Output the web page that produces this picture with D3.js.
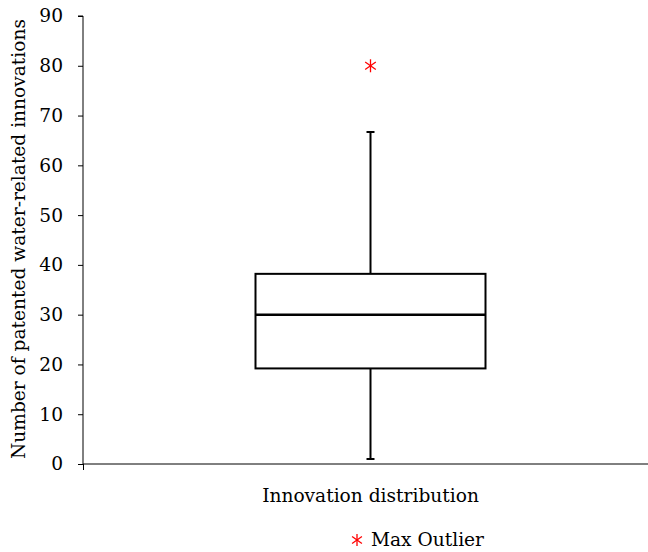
<!DOCTYPE html>
<html>
<head>
<meta charset="utf-8">
<script src="https://cdn.jsdelivr.net/npm/d3@7"></script>
<style>
  body { margin: 0; background: #fff; }
  text { font-family: "DejaVu Serif", "Liberation Serif", serif; }
</style>
</head>
<body>
<div id="vis-container"></div>
<script>
// data
let categories = ["Innovation distribution"];
let minValues = [1];
let q1Values = [19.2];
let medianValues = [30];
let q3Values = [38.2];
let maxValues = [66.7];
let outlierValues = [80];
let yTicks = [0, 10, 20, 30, 40, 50, 60, 70, 80, 90];

let W = 648, H = 552;
let fontFam = "'DejaVu Serif', serif";
let fs = "18.6px";

// margin convention
let margin = {top: 16, right: -10, bottom: 88, left: 83};
let width = W - margin.left - margin.right;
let height = H - margin.top - margin.bottom;

let svg = d3.select("#vis-container")
  .append("svg")
  .attr("width", W)
  .attr("height", H);

let g = svg.append("g")
  .attr("transform", `translate(${margin.left}, ${margin.top})`);

// scales
let x = d3.scaleBand()
  .domain(categories)
  .range([0, width])
  .paddingInner(0)
  .paddingOuter(0);

let y = d3.scaleLinear()
  .domain([0, 90])
  .range([height, 0]);

// y axis
let yAxis = d3.axisLeft(y)
  .tickValues(yTicks)
  .tickSize(5)
  .tickPadding(15)
  .tickFormat(d3.format("d"));

let yAxisGroup = g.append("g")
  .attr("class", "y axis")
  .call(yAxis);
yAxisGroup.select(".domain").attr("stroke", "#000").attr("d", `M-5,0H0V${height}`);
yAxisGroup.selectAll("text")
  .attr("font-size", fs)
  .attr("fill", "#000")
  .style("font-family", fontFam);
yAxisGroup.selectAll("line").attr("stroke", "#000");

// x axis
let xAxisGroup = g.append("g")
  .attr("class", "x axis")
  .attr("transform", `translate(0,${height})`);
xAxisGroup.append("line")
  .attr("x1", 0).attr("x2", width)
  .attr("stroke", "#000");
xAxisGroup.append("line")
  .attr("x1", 0.5).attr("x2", 0.5)
  .attr("y1", 0).attr("y2", 6)
  .attr("stroke", "#000");
xAxisGroup.selectAll("text.cat")
  .data(categories)
  .enter()
  .append("text")
  .attr("class", "cat")
  .attr("x", d => x(d) + x.bandwidth() / 2)
  .attr("y", 38)
  .attr("text-anchor", "middle")
  .attr("font-size", fs)
  .attr("fill", "#000")
  .text(d => d);

// y axis label
g.append("text")
  .attr("x", -(height / 2) + 1)
  .attr("y", -58)
  .attr("font-size", fs)
  .attr("text-anchor", "middle")
  .attr("transform", "rotate(-90)")
  .text("Number of patented water-related innovations");

// box plot
let boxFrac = 0.4;
let capW = 8;
let boxes = categories.map((c, i) => ({
  cat: c, min: minValues[i], q1: q1Values[i], med: medianValues[i],
  q3: q3Values[i], max: maxValues[i], out: outlierValues[i]
}));

let bw = x.bandwidth() * boxFrac;
let bg = g.selectAll("g.box")
  .data(boxes)
  .enter()
  .append("g")
  .attr("class", "box")
  .attr("transform", d => `translate(${x(d.cat) + x.bandwidth() / 2},0)`);

// whiskers
bg.append("line")
  .attr("x1", 0).attr("x2", 0)
  .attr("y1", d => y(d.q3)).attr("y2", d => y(d.max))
  .attr("stroke", "#000").attr("stroke-width", 2);
bg.append("line")
  .attr("x1", 0).attr("x2", 0)
  .attr("y1", d => y(d.q1)).attr("y2", d => y(d.min))
  .attr("stroke", "#000").attr("stroke-width", 2);
bg.append("line")
  .attr("x1", -capW / 2).attr("x2", capW / 2)
  .attr("y1", d => y(d.max)).attr("y2", d => y(d.max))
  .attr("stroke", "#000").attr("stroke-width", 2);
bg.append("line")
  .attr("x1", -capW / 2).attr("x2", capW / 2)
  .attr("y1", d => y(d.min)).attr("y2", d => y(d.min))
  .attr("stroke", "#000").attr("stroke-width", 2);

// box
bg.append("rect")
  .attr("x", -bw / 2)
  .attr("y", d => y(d.q3))
  .attr("width", bw)
  .attr("height", d => y(d.q1) - y(d.q3))
  .attr("fill", "#fff")
  .attr("stroke", "#000")
  .attr("stroke-width", 2);
bg.append("line")
  .attr("x1", -bw / 2).attr("x2", bw / 2)
  .attr("y1", d => y(d.med)).attr("y2", d => y(d.med))
  .attr("stroke", "#000").attr("stroke-width", 2.5);

// asterisk marker
function star(sel, r) {
  [0, 55, 125].forEach(a => {
    let rad = (a + 90) * Math.PI / 180;
    sel.append("line")
      .attr("x1", -r * Math.cos(rad)).attr("y1", -r * Math.sin(rad))
      .attr("x2", r * Math.cos(rad)).attr("y2", r * Math.sin(rad))
      .attr("stroke", "#ff0000").attr("stroke-width", 1.3);
  });
}

bg.append("g")
  .attr("transform", d => `translate(0,${y(d.out)})`)
  .call(star, 6.5);

// legend
let legend = svg.append("g")
  .attr("transform", "translate(357,540)");
legend.append("g").call(star, 6);
legend.append("text")
  .attr("x", 14)
  .attr("y", 6)
  .attr("font-size", fs)
  .text("Max Outlier");
</script>
</body>
</html>
